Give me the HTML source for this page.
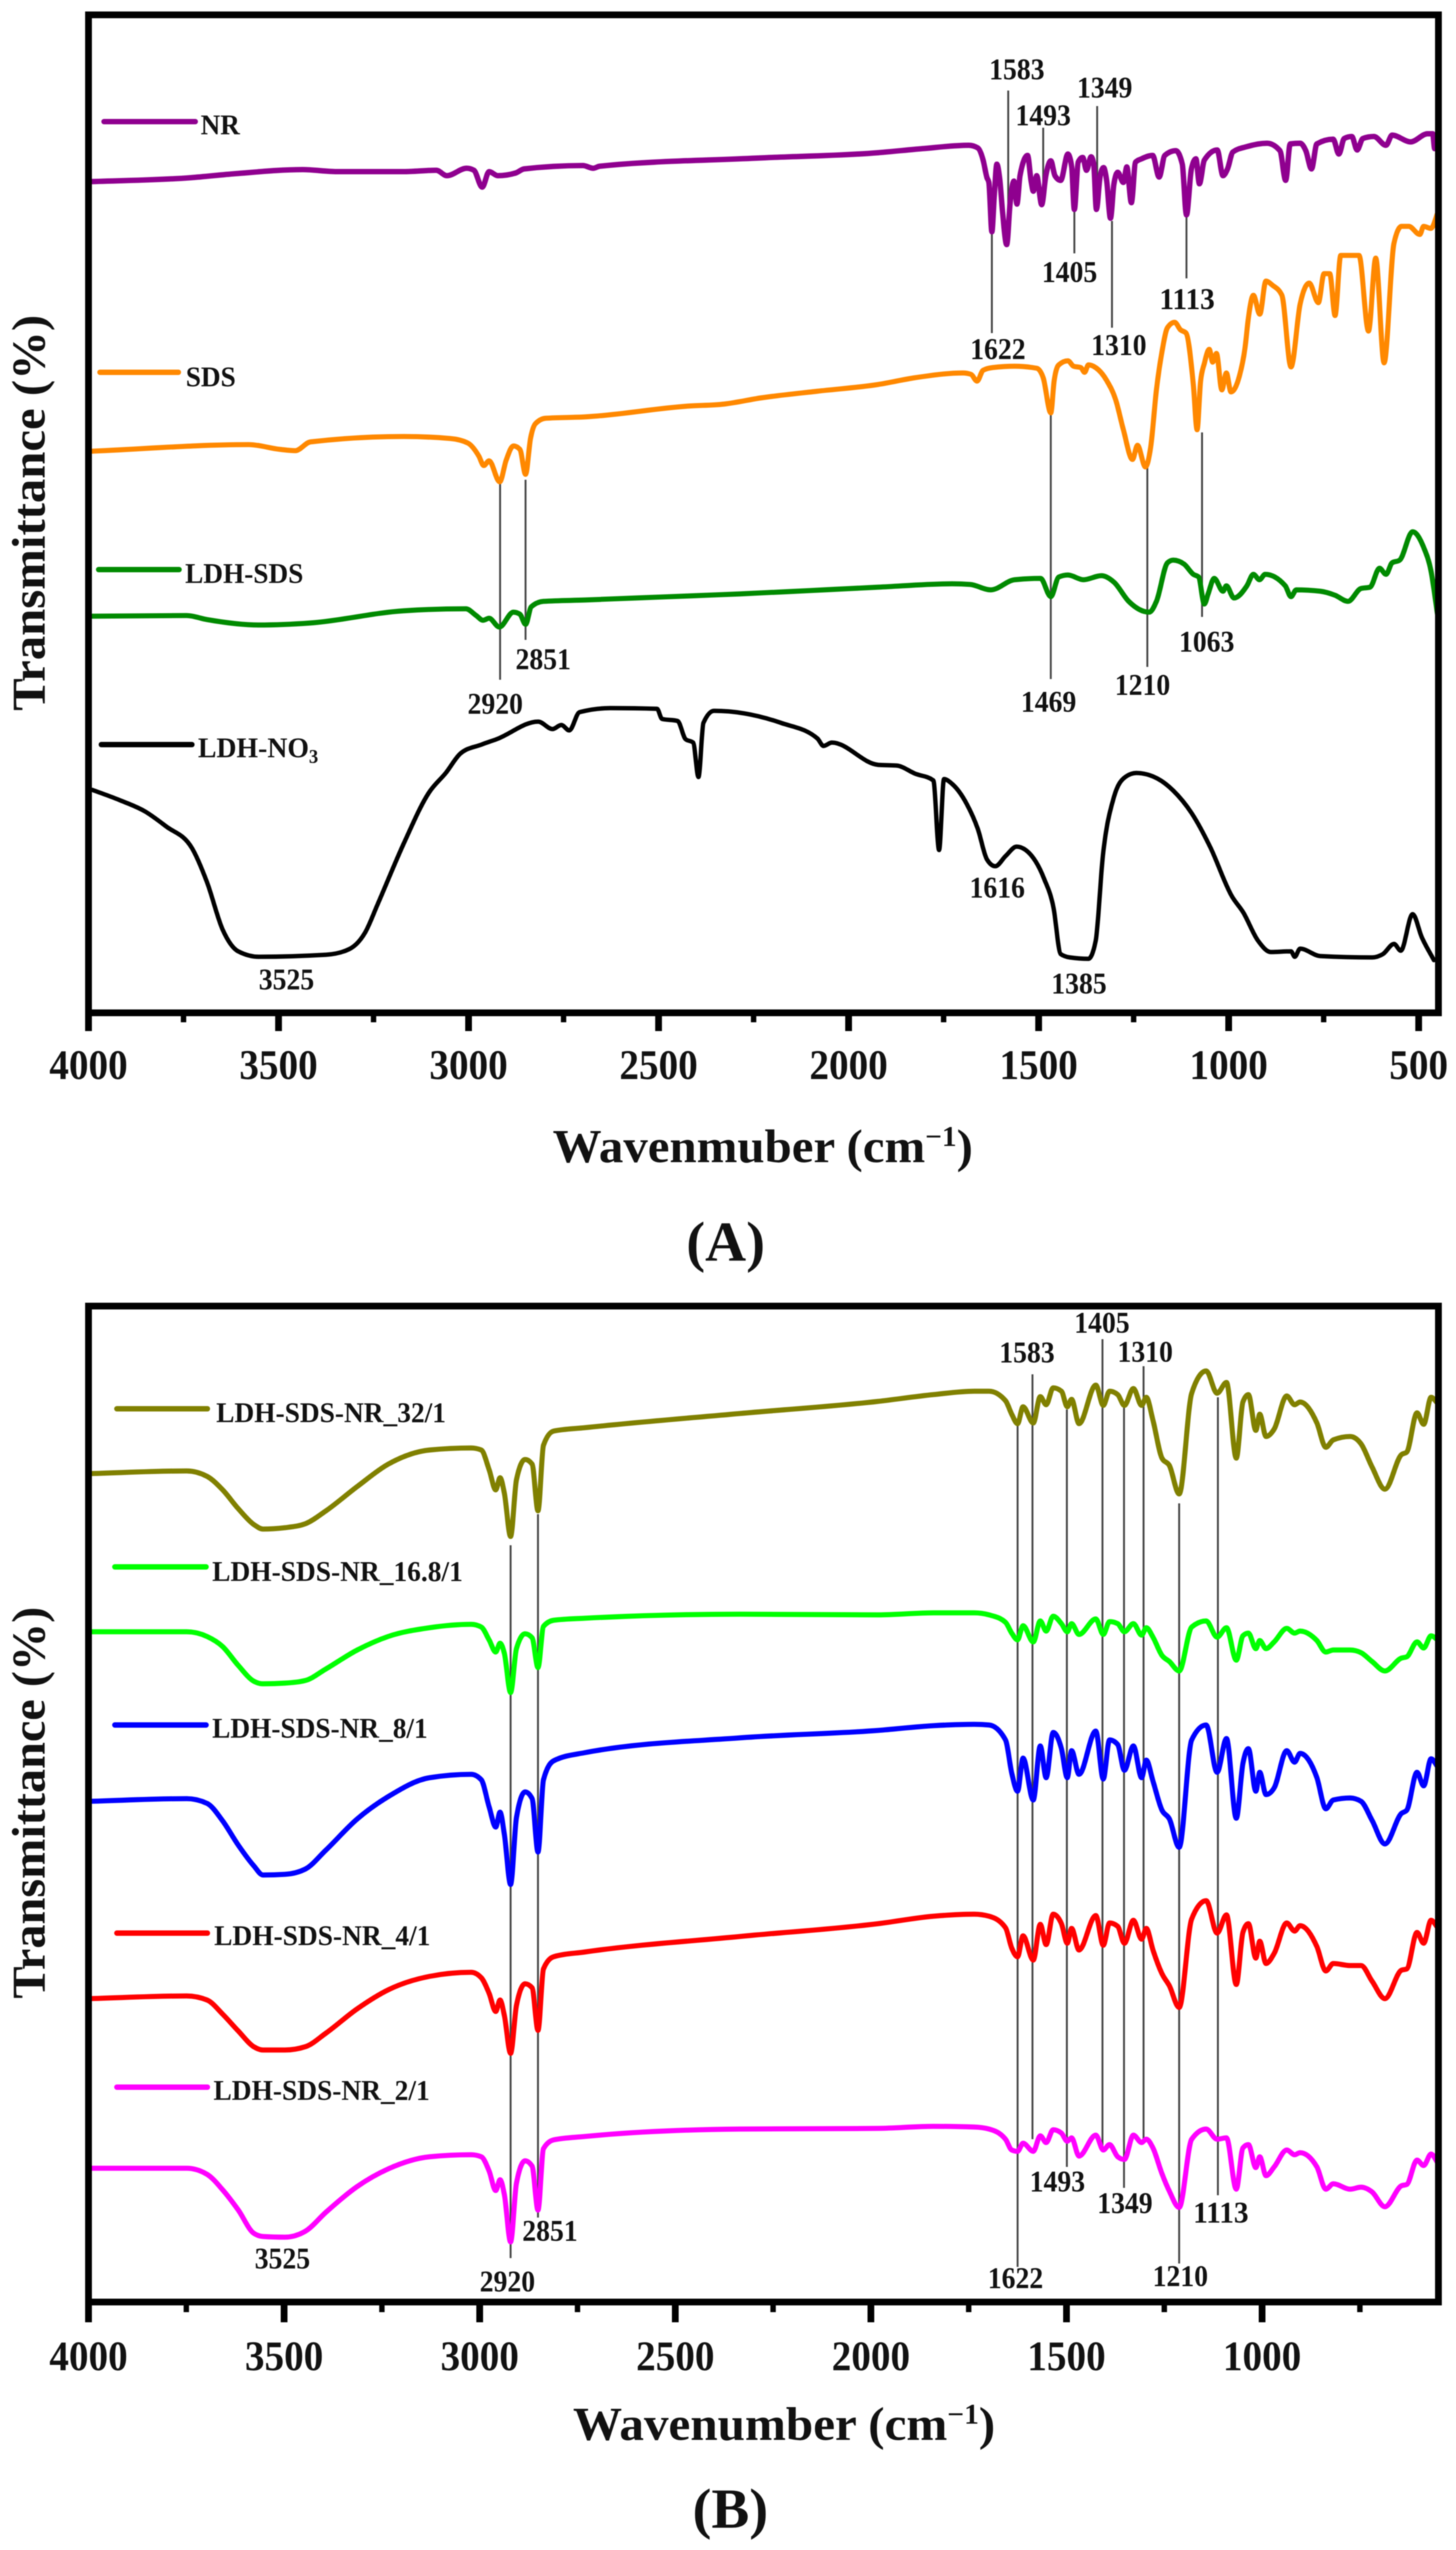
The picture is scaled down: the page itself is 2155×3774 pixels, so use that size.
<!DOCTYPE html>
<html lang="en">
<head>
<meta charset="utf-8">
<title>FTIR spectra of NR, SDS and LDH samples</title>
<style>
html,body{margin:0;padding:0;background:#fff;width:2155px;height:3774px;overflow:hidden}
#figure{display:block;filter:blur(0.7px)}
text{font-family:"Liberation Serif",serif;font-weight:bold;fill:#111}
.peak{font-size:44px}
.leg{font-size:42px}
.tick{font-size:62px;text-anchor:middle}
.ttl{font-size:70px}
.cap{font-size:84px}
</style>
</head>
<body>
<svg id="figure" xmlns="http://www.w3.org/2000/svg" width="2155" height="3774" viewBox="0 0 2155 3774">
<rect width="2155" height="3774" fill="#fff"/>
<g id="layerA"></g>
<g id="layerB"></g>

<!-- Panel A text -->
<text class="ttl" transform="translate(66,759) rotate(-90)" text-anchor="middle" textLength="586" lengthAdjust="spacingAndGlyphs">Transmittance (%)</text>
<text class="ttl" x="818" y="1720" textLength="622" lengthAdjust="spacingAndGlyphs">Wavenmuber (cm<tspan dy="-24" font-size="42">−1</tspan><tspan dy="24">)</tspan></text>
<text class="cap" x="1074" y="1866" text-anchor="middle">(A)</text>

<text class="leg" x="297" y="199" textLength="58" lengthAdjust="spacingAndGlyphs">NR</text>
<text class="leg" x="275" y="572" textLength="74" lengthAdjust="spacingAndGlyphs">SDS</text>
<text class="leg" x="274" y="863" textLength="175" lengthAdjust="spacingAndGlyphs">LDH-SDS</text>
<text class="leg" x="293" y="1121" textLength="178" lengthAdjust="spacingAndGlyphs">LDH-NO<tspan dy="8" font-size="28">3</tspan></text>

<g>
<text class="peak" x="1464" y="117">1583</text>
<text class="peak" x="1594" y="144">1349</text>
<text class="peak" x="1503" y="185">1493</text>
<text class="peak" x="1542" y="417">1405</text>
<text class="peak" x="1716" y="457">1113</text>
<text class="peak" x="1436" y="531">1622</text>
<text class="peak" x="1615" y="525">1310</text>
<text class="peak" x="1511" y="1053">1469</text>
<text class="peak" x="1650" y="1028">1210</text>
<text class="peak" x="1745" y="964">1063</text>
<text class="peak" x="763" y="990">2851</text>
<text class="peak" x="692" y="1056">2920</text>
<text class="peak" x="383" y="1464">3525</text>
<text class="peak" x="1435" y="1328">1616</text>
<text class="peak" x="1556" y="1470">1385</text>
</g>

<!-- Panel B text -->
<text class="ttl" transform="translate(66,2668) rotate(-90)" text-anchor="middle" textLength="580" lengthAdjust="spacingAndGlyphs">Transmittance (%)</text>
<text class="ttl" x="848" y="3611" textLength="625" lengthAdjust="spacingAndGlyphs">Wavenumber (cm<tspan dy="-24" font-size="42">−1</tspan><tspan dy="24">)</tspan></text>
<text class="cap" x="1081" y="3741" text-anchor="middle">(B)</text>

<text class="leg" x="320" y="2105" textLength="340" lengthAdjust="spacingAndGlyphs">LDH-SDS-NR_32/1</text>
<text class="leg" x="314" y="2340" textLength="371" lengthAdjust="spacingAndGlyphs">LDH-SDS-NR_16.8/1</text>
<text class="leg" x="314" y="2572" textLength="319" lengthAdjust="spacingAndGlyphs">LDH-SDS-NR_8/1</text>
<text class="leg" x="317" y="2879" textLength="320" lengthAdjust="spacingAndGlyphs">LDH-SDS-NR_4/1</text>
<text class="leg" x="316" y="3108" textLength="320" lengthAdjust="spacingAndGlyphs">LDH-SDS-NR_2/1</text>

<g>
<text class="peak" x="1590" y="1972">1405</text>
<text class="peak" x="1479" y="2016">1583</text>
<text class="peak" x="1654" y="2015">1310</text>
<text class="peak" x="1524" y="3243">1493</text>
<text class="peak" x="1624" y="3275">1349</text>
<text class="peak" x="1766" y="3289">1113</text>
<text class="peak" x="1462" y="3386">1622</text>
<text class="peak" x="1706" y="3383">1210</text>
<text class="peak" x="377" y="3357">3525</text>
<text class="peak" x="773" y="3316">2851</text>
<text class="peak" x="710" y="3391">2920</text>
</g>
</svg>

<script>
/* ---------- Panel A data: wavenumber (cm-1) and transmittance (a.u.) ---------- */
const nrWavenumbers = [3999,3731,3613,3436,3347,3171,3085,3057,3005,2986,2964,2946,2923,2876,2854,2699,2672,2655,2242,1922,1806,1684,1660,1646,1636,1631,1623,1617,1610,1602,1595,1584,1575,1565,1557,1549,1529,1520,1514,1505,1492,1481,1468,1457,1442,1423,1413,1406,1396,1384,1374,1362,1355,1348,1338,1329,1321,1311,1302,1292,1277,1268,1256,1245,1229,1200,1183,1168,1139,1122,1111,1098,1086,1077,1064,1030,1015,1003,989,952,899,865,850,838,812,797,782,768,725,710,696,676,662,647,618,586,570,521,477,463,458,448];
const nrValues = [1230,1236,1242,1248,1245,1245,1247,1239,1250,1247,1222,1245,1239,1243,1249,1254,1250,1253,1265,1273,1279,1284,1280,1262,1236,1229,1156,1206,1256,1232,1186,1137,1199,1231,1197,1239,1269,1232,1216,1239,1196,1239,1261,1239,1232,1271,1252,1189,1259,1266,1247,1267,1256,1189,1239,1251,1232,1176,1226,1244,1229,1252,1199,1259,1264,1269,1237,1269,1276,1256,1181,1249,1264,1227,1262,1277,1239,1249,1274,1282,1287,1276,1232,1286,1287,1276,1249,1286,1293,1271,1294,1297,1277,1294,1297,1284,1299,1289,1301,1301,1279,1306];

const sdsWavenumbers = [3998,3579,3497,3456,3416,3171,3048,3001,2973,2960,2946,2918,2901,2882,2865,2850,2837,2824,2797,2694,2422,2327,2232,2082,1922,1825,1699,1678,1662,1646,1621,1563,1505,1488,1468,1459,1447,1423,1408,1389,1379,1369,1350,1321,1297,1277,1253,1240,1219,1205,1190,1175,1161,1142,1127,1112,1093,1083,1074,1064,1051,1042,1032,1018,1006,994,972,957,948,935,918,902,885,860,836,812,788,764,749,734,720,705,657,632,613,591,565,545,526,497,487,468,448];
const sdsValues = [831,841,834,832,845,853,850,843,824,810,817,786,818,839,834,797,850,872,880,882,898,901,910,920,930,940,947,945,935,951,955,957,954,940,888,936,959,965,957,955,948,959,955,936,907,863,819,840,808,838,922,980,1014,1022,1011,1006,930,863,934,961,982,963,976,922,947,919,942,984,1029,1062,1034,1083,1077,1062,956,1049,1080,1051,1094,1094,1032,1121,1121,1009,1117,962,1139,1164,1164,1152,1164,1161,1187];

const ldhSdsWavenumbers = [3998,3742,3688,3552,3416,3171,3007,2980,2962,2946,2919,2882,2865,2850,2835,2803,2694,2286,1922,1728,1680,1626,1563,1495,1468,1447,1423,1382,1335,1301,1263,1209,1190,1161,1146,1117,1093,1079,1064,1054,1038,1015,1006,986,952,935,919,904,851,836,822,759,720,686,652,628,603,586,570,550,516,487,468,450];
const ldhSdsValues = [587,588,582,574,577,595,598,588,581,584,571,593,590,575,601,609,611,620,630,635,634,626,641,643,616,645,648,641,647,637,609,593,609,666,670,664,649,645,605,620,643,624,632,614,632,649,641,649,632,616,626,624,618,609,628,630,658,649,666,670,712,689,655,588];

const ldhNo3Wavenumbers = [3990,3919,3851,3796,3728,3688,3647,3606,3552,3375,3315,3272,3239,3171,3103,3060,3021,2966,2926,2817,2779,2756,2735,2708,2627,2504,2491,2450,2429,2409,2395,2382,2354,2177,2082,2066,2044,1922,1874,1825,1777,1762,1749,1728,1689,1660,1636,1614,1587,1558,1534,1486,1461,1442,1418,1369,1350,1331,1302,1272,1243,1185,1146,1098,1049,991,962,923,889,836,826,812,759,623,594,565,547,516,492,460];
const ldhNo3Values = [330,315,298,276,244,193,123,91,83,86,94,119,161,250,327,355,384,397,405,431,420,426,418,445,451,450,435,432,405,400,349,429,447,429,406,395,400,367,366,354,344,241,346,339,309,272,227,217,232,246,241,199,156,87,82,80,106,232,319,349,355,346,329,296,246,172,149,107,90,91,83,95,84,82,87,102,92,146,112,78];

const axisTicksA = [4000,3500,3000,2500,2000,1500,1000,500];
const minorTicksA = [3750,3250,2750,2250,1750,1250,750];
const peakWavenumbersA = [1580,1488,1346,1406,1623,1307,1111,1468,1214,1070,2917,2850];
const peakTopA = [1365,1310,1342,1187,1156,1172,1181,886,808,859,783,789];
const peakBottomA = [1166,1216,1217,1124,1006,1014,1087,494,512,586,493,552];

/* ---------- Panel B data: shared wavenumber grid ---------- */
const wavenumbersB = [4001,3749,3697,3657,3617,3578,3554,3498,3445,3393,3313,3234,3128,3022,2996,2976,2959,2948,2937,2921,2906,2884,2866,2851,2837,2811,2732,2335,
1981,1840,1736,1698,1656,1640,1625,1611,1585,1567,1552,1534,1513,1498,1487,1468,1425,1406,1390,1369,1352,1329,1308,1296,1279,1256,1237,1212,1180,1143,1115,1091,1066,1049,1035,1016,1006,990,969,937,917,903,860,837,818,775,747,719,686,644,630,604,587,568,551];
const values32to1 = [1226,1230,1222,1202,1174,1151,1144,1146,1152,1171,1207,1240,1261,1264,1261,1232,1202,1220,1197,1133,1217,1247,1240,1171,1268,1289,1294,1315,
1333,1343,1348,1348,1334,1314,1300,1325,1301,1340,1328,1353,1348,1325,1336,1300,1357,1327,1348,1343,1327,1352,1327,1339,1305,1249,1238,1196,1345,1378,1345,1361,1249,1332,1343,1290,1314,1281,1292,1341,1328,1332,1301,1265,1276,1281,1270,1236,1203,1254,1258,1316,1299,1339,1330];
const values16p8to1 = [992,992,985,970,942,919,915,916,920,937,965,985,998,1003,999,980,962,975,960,902,967,989,983,939,1000,1009,1012,1018,
1017,1020,1020,1017,1006,990,980,1001,977,1008,993,1015,1004,992,1004,988,1011,988,1007,1004,992,1004,987,998,984,957,948,934,999,1008,984,998,950,986,990,967,979,967,977,997,990,993,979,962,965,965,961,948,934,953,955,977,968,986,980];
const values8to1 = [741,745,738,712,676,646,632,633,641,669,715,748,776,781,773,733,703,725,692,618,717,755,745,666,773,801,813,835,
846,853,855,854,832,783,756,805,743,823,776,843,819,776,816,781,845,774,832,825,787,823,776,802,771,728,715,673,832,854,784,834,716,797,819,756,784,751,761,816,799,812,776,730,743,746,741,713,678,723,728,784,764,804,792];
const values4to1 = [449,453,447,426,401,378,373,373,378,398,434,462,482,488,480,457,430,447,424,368,439,471,465,402,493,511,518,541,
560,571,574,571,554,524,511,542,506,559,529,574,560,531,553,521,572,528,561,556,531,565,537,553,521,486,468,436,567,594,546,573,470,547,560,509,534,501,516,561,549,557,526,490,501,498,498,475,449,491,493,547,531,565,554];
const values2to1 = [198,198,189,166,136,102,97,96,105,133,171,197,215,218,215,194,165,181,159,89,176,209,201,136,227,240,245,256,
257,260,259,256,241,225,223,235,223,246,236,255,250,238,243,216,247,225,233,215,211,247,236,241,228,190,164,140,241,256,241,243,167,228,233,199,215,187,200,225,218,221,200,167,175,167,170,163,141,172,174,210,202,219,206];

const axisTicksB = [4000,3500,3000,2500,2000,1500,1000];
const minorTicksB = [3750,3250,2750,2250,1750,1250,750];
const peakWavenumbersB = [2921,2851,1625,1587,1499,1408,1353,1303,1212,1113];
const peakTopB = [1120,1166,1301,1373,1321,1425,1328,1385,1182,1339];
const peakBottomB = [65,125,52,241,200,225,169,236,57,158];

/* ---------- Axis functions ---------- */
const frameLeft = 131, frameRight = 2129;
const topA = 22, bottomA = 1499, topB = 1933, bottomB = 3407;
function xA(w){ return frameLeft + (4000 - w) * 0.5625; }
function yA(t){ return bottomA - t; }
function xB(w){ return frameLeft + (4000 - w) * 0.579; }
function yB(t){ return bottomB - t; }

const NS = 'http://www.w3.org/2000/svg';
function node(tag, parent){
  const el = document.createElementNS(NS, tag);
  parent.appendChild(el);
  return el;
}
/* monotone cubic path through ordered points */
function curve(xs, ys){
  const n = xs.length, m = [], d = [];
  for(let i = 0; i < n - 1; i++){ d[i] = (ys[i+1] - ys[i]) / (xs[i+1] - xs[i]); }
  m[0] = d[0]; m[n-1] = d[n-2];
  for(let i = 1; i < n - 1; i++){
    if(d[i-1] * d[i] <= 0){ m[i] = 0; }
    else {
      const h0 = xs[i] - xs[i-1], h1 = xs[i+1] - xs[i];
      const p = (d[i-1] * h1 + d[i] * h0) / (h0 + h1);
      m[i] = Math.sign(d[i]) * Math.min(Math.abs(d[i-1]), Math.abs(d[i]), Math.abs(p) / 2) * 2;
    }
  }
  let s = 'M' + xs[0].toFixed(1) + ' ' + ys[0].toFixed(1);
  for(let i = 0; i < n - 1; i++){
    const h = (xs[i+1] - xs[i]) / 3;
    s += 'C' + (xs[i] + h).toFixed(1) + ' ' + (ys[i] + m[i] * h).toFixed(1) + ' ' +
         (xs[i+1] - h).toFixed(1) + ' ' + (ys[i+1] - m[i+1] * h).toFixed(1) + ' ' +
         xs[i+1].toFixed(1) + ' ' + ys[i+1].toFixed(1);
  }
  return s;
}
function drawSeries(layer, wn, vals, xf, yf, color, width, name){
  const p = node('path', layer);
  p.setAttribute('d', curve(wn.map(xf), vals.map(yf)));
  p.setAttribute('fill', 'none');
  p.setAttribute('stroke', color);
  p.setAttribute('stroke-width', width);
  p.setAttribute('stroke-linejoin', 'round');
  p.setAttribute('stroke-linecap', 'round');
  
  
}
function drawLegendLine(layer, x1, x2, y, color, name){
  const l = node('line', layer);
  l.setAttribute('x1', x1);
  l.setAttribute('x2', x2);
  l.setAttribute('y1', y);
  l.setAttribute('y2', y);
  l.setAttribute('stroke', color);
  l.setAttribute('stroke-width', 8);
  l.setAttribute('stroke-linecap', 'round');
  
  
}
function drawPeaks(layer, wn, tops, bottoms, xf, yf, panel){
  wn.forEach(function(w, i){
    const l = node('line', layer);
    l.setAttribute('x1', xf(w));
    l.setAttribute('x2', xf(w));
    l.setAttribute('y1', yf(tops[i]));
    l.setAttribute('y2', yf(bottoms[i]));
    l.setAttribute('stroke', '#444');
    l.setAttribute('stroke-width', 2.8);
    
    
  });
}
function drawAxes(layer, top, bottom, xf, majors, minors, majorLen, minorLen, labelY, panel){
  const r = node('rect', layer);
  r.setAttribute('x', frameLeft);
  r.setAttribute('y', top);
  r.setAttribute('width', frameRight - frameLeft);
  r.setAttribute('height', bottom - top);
  r.setAttribute('fill', 'none');
  r.setAttribute('stroke', '#000');
  r.setAttribute('stroke-width', 10);
  
  
  majors.forEach(function(v){
    const t = node('line', layer);
    t.setAttribute('x1', xf(v));
    t.setAttribute('x2', xf(v));
    t.setAttribute('y1', bottom);
    t.setAttribute('y2', bottom + majorLen);
    t.setAttribute('stroke', '#000');
    t.setAttribute('stroke-width', 10);
    
    
    const lab = node('text', layer);
    lab.setAttribute('class', 'tick');
    lab.setAttribute('x', xf(v));
    lab.setAttribute('y', labelY);
    lab.setAttribute('textLength', String(v).length * 29);
    lab.setAttribute('lengthAdjust', 'spacingAndGlyphs');
    lab.textContent = String(v);
    
    
  });
  minors.forEach(function(v){
    const t = node('line', layer);
    t.setAttribute('x1', xf(v));
    t.setAttribute('x2', xf(v));
    t.setAttribute('y1', bottom);
    t.setAttribute('y2', bottom + minorLen);
    t.setAttribute('stroke', '#000');
    t.setAttribute('stroke-width', 8);
    
    
  });
}

/* ---------- Render ---------- */
const layerA = document.getElementById('layerA');
const layerB = document.getElementById('layerB');

document.querySelectorAll('.peak').forEach(function(t){
  t.setAttribute('textLength', 82);
  t.setAttribute('lengthAdjust', 'spacingAndGlyphs');
});

drawPeaks(layerA, peakWavenumbersA, peakTopA, peakBottomA, xA, yA, 'a');
drawSeries(layerA, nrWavenumbers, nrValues, xA, yA, '#8f008f', 8, 'series-nr');
drawSeries(layerA, sdsWavenumbers, sdsValues, xA, yA, '#ff8800', 7.5, 'series-sds');
drawSeries(layerA, ldhSdsWavenumbers, ldhSdsValues, xA, yA, '#008a00', 7.5, 'series-ldh-sds');
drawSeries(layerA, ldhNo3Wavenumbers, ldhNo3Values, xA, yA, '#000000', 6.5, 'series-ldh-no3');
drawAxes(layerA, topA, bottomA, xA, axisTicksA, minorTicksA, 27, 14, 1597, 'a');
drawLegendLine(layerA, 154, 289, 180, '#8f008f', 'legend-line-nr');
drawLegendLine(layerA, 148, 264, 551, '#ff8800', 'legend-line-sds');
drawLegendLine(layerA, 146, 265, 843, '#008a00', 'legend-line-ldh-sds');
drawLegendLine(layerA, 150, 284, 1102, '#000000', 'legend-line-ldh-no3');

drawPeaks(layerB, peakWavenumbersB, peakTopB, peakBottomB, xB, yB, 'b');
drawSeries(layerB, wavenumbersB, values32to1, xB, yB, '#808000', 7.5, 'series-ldh-sds-nr-32-1');
drawSeries(layerB, wavenumbersB, values16p8to1, xB, yB, '#00ff00', 7.5, 'series-ldh-sds-nr-16-8-1');
drawSeries(layerB, wavenumbersB, values8to1, xB, yB, '#0000ff', 7.5, 'series-ldh-sds-nr-8-1');
drawSeries(layerB, wavenumbersB, values4to1, xB, yB, '#ff0000', 7.5, 'series-ldh-sds-nr-4-1');
drawSeries(layerB, wavenumbersB, values2to1, xB, yB, '#ff00ff', 7.5, 'series-ldh-sds-nr-2-1');
drawAxes(layerB, topB, bottomB, xB, axisTicksB, minorTicksB, 30, 15, 3508, 'b');
drawLegendLine(layerB, 173, 307, 2085, '#808000', 'legend-line-32-1');
drawLegendLine(layerB, 170, 305, 2319, '#00ff00', 'legend-line-16-8-1');
drawLegendLine(layerB, 170, 305, 2553, '#0000ff', 'legend-line-8-1');
drawLegendLine(layerB, 173, 307, 2861, '#ff0000', 'legend-line-4-1');
drawLegendLine(layerB, 173, 307, 3089, '#ff00ff', 'legend-line-2-1');
</script>
</body>
</html>
